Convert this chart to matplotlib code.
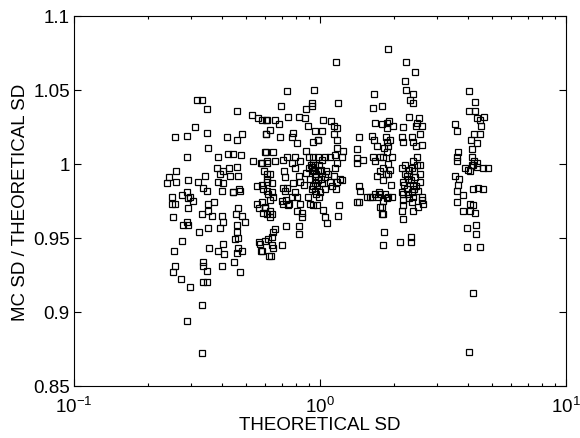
import matplotlib
matplotlib.use("Agg")
import matplotlib.pyplot as plt
import numpy as np

# ratio of Monte Carlo SD to theoretical SD
# band around 0.24 - 0.62
sd_a = [0.316, 0.331, 0.347, 0.460, 0.529, 0.559, 0.603, 0.310, 0.257, 0.288,
        0.347, 0.419, 0.460, 0.482, 0.603, 0.351, 0.288, 0.385, 0.423, 0.443,
        0.478, 0.534, 0.575, 0.609, 0.603, 0.381, 0.403, 0.427, 0.460, 0.260,
        0.244, 0.260, 0.239, 0.291, 0.319, 0.341, 0.392, 0.431, 0.464, 0.334,
        0.347, 0.385, 0.403, 0.443, 0.468, 0.555, 0.609, 0.609, 0.587, 0.250,
        0.275, 0.296, 0.291, 0.306, 0.250, 0.257, 0.288, 0.351, 0.370, 0.291,
        0.331, 0.351, 0.364, 0.253, 0.288, 0.277, 0.291, 0.400, 0.403, 0.392,
        0.322, 0.351, 0.464, 0.455, 0.482, 0.496, 0.460, 0.460, 0.451, 0.464,
        0.555, 0.565, 0.598, 0.400, 0.443, 0.473, 0.275, 0.255, 0.354, 0.385,
        0.403, 0.407, 0.464, 0.482, 0.460, 0.565, 0.575, 0.615, 0.620, 0.257,
        0.253, 0.334, 0.334, 0.347, 0.400, 0.447, 0.473, 0.272, 0.296, 0.334,
        0.347, 0.331, 0.288, 0.331]
ratio_a = [1.043, 1.043, 1.037, 1.036, 1.033, 1.031, 1.030, 1.025, 1.018, 1.019,
           1.021, 1.018, 1.016, 1.020, 1.020, 1.011, 1.005, 1.005, 1.007, 1.007,
           1.006, 1.002, 1.001, 1.002, 1.008, 0.997, 0.995, 0.997, 0.998, 0.995,
           0.991, 0.988, 0.987, 0.989, 0.988, 0.992, 0.993, 0.992, 0.992, 0.984,
           0.982, 0.988, 0.987, 0.981, 0.983, 0.985, 0.993, 0.988, 0.983, 0.978,
           0.979, 0.978, 0.977, 0.975, 0.973, 0.973, 0.981, 0.973, 0.974, 0.970,
           0.966, 0.968, 0.965, 0.964, 0.961, 0.959, 0.959, 0.965, 0.961, 0.957,
           0.954, 0.957, 0.970, 0.966, 0.965, 0.961, 0.959, 0.954, 0.949, 0.950,
           0.973, 0.970, 0.970, 0.982, 0.981, 0.982, 0.948, 0.941, 0.943, 0.941,
           0.946, 0.939, 0.943, 0.941, 0.940, 0.947, 0.941, 0.949, 0.938, 0.931,
           0.927, 0.934, 0.931, 0.928, 0.931, 0.934, 0.927, 0.922, 0.917, 0.920,
           0.920, 0.905, 0.894, 0.872]

# band around 0.57 - 1.9
sd_b = [1.889, 1.161, 0.734, 0.946, 1.185, 1.658, 0.694, 0.877, 0.928, 0.928,
        1.641, 1.787, 0.741, 0.818, 0.869, 0.581, 0.609, 0.656, 0.680, 1.033,
        1.110, 1.138, 1.172, 0.894, 1.674, 1.787, 1.872, 0.603, 0.626, 0.687,
        0.777, 0.766, 0.807, 0.954, 1.019, 0.981, 1.138, 1.172, 1.442, 1.626,
        1.658, 1.854, 0.937, 0.981, 0.877, 1.172, 1.240, 1.413, 1.706, 1.820,
        1.872, 0.598, 0.644, 0.581, 0.609, 0.656, 0.707, 0.734, 0.791, 0.766,
        0.829, 0.902, 0.937, 0.937, 0.954, 0.981, 1.019, 1.047, 1.099, 1.151,
        1.172, 1.228, 1.413, 1.413, 1.496, 1.641, 1.674, 1.754, 0.592, 0.626,
        0.609, 0.638, 0.581, 0.714, 0.721, 0.734, 0.707, 0.777, 0.829, 0.818,
        0.791, 0.902, 0.937, 0.910, 0.954, 0.981, 0.937, 1.019, 0.954, 1.000,
        1.047, 1.099, 1.047, 1.078, 1.151, 1.138, 1.205, 1.172, 1.228, 1.161,
        1.455, 1.442, 1.553, 1.674, 1.738, 1.706, 1.754, 1.889, 0.615, 0.644,
        0.609, 0.638, 0.626, 0.581, 0.598, 0.587, 0.626, 0.638, 0.626, 0.609,
        0.721, 0.727, 0.700, 0.770, 0.748, 0.707, 0.741, 0.807, 0.807, 0.845,
        0.845, 0.894, 0.910, 0.937, 0.972, 0.829, 1.033, 1.047, 1.065, 1.194,
        1.185, 1.442, 1.413, 1.596, 1.626, 1.722, 1.754, 1.803, 1.872, 1.889,
        0.727, 0.818, 0.818, 0.656, 0.644, 0.638, 0.598, 0.570, 0.638, 0.644,
        0.700, 0.581, 0.632, 1.820, 1.803]
ratio_b = [1.078, 1.069, 1.049, 1.050, 1.041, 1.047, 1.039, 1.037, 1.041, 1.039,
           1.038, 1.039, 1.032, 1.032, 1.031, 1.030, 1.030, 1.030, 1.027, 1.030,
           1.029, 1.026, 1.024, 1.026, 1.028, 1.027, 1.028, 1.020, 1.023, 1.018,
           1.021, 1.018, 1.014, 1.022, 1.022, 1.016, 1.020, 1.016, 1.018, 1.019,
           1.016, 1.018, 1.015, 1.016, 1.009, 1.011, 1.009, 1.010, 1.012, 1.011,
           1.015, 1.008, 1.008, 1.001, 1.001, 1.002, 1.003, 1.005, 1.005, 1.001,
           1.002, 1.005, 1.005, 1.001, 0.999, 1.005, 1.003, 1.005, 1.005, 1.006,
           1.001, 1.005, 1.004, 1.001, 1.003, 1.005, 1.002, 1.005, 0.995, 0.993,
           0.990, 0.987, 0.986, 0.995, 0.991, 0.984, 0.984, 0.987, 0.988, 0.992,
           0.981, 0.997, 0.995, 0.990, 0.992, 0.989, 0.985, 0.987, 0.982, 0.981,
           0.983, 0.988, 0.991, 0.993, 0.997, 0.992, 0.990, 0.988, 0.989, 0.983,
           0.982, 0.985, 0.978, 0.980, 0.981, 0.992, 0.995, 0.993, 0.980, 0.978,
           0.982, 0.981, 0.976, 0.974, 0.971, 0.967, 0.968, 0.966, 0.964, 0.966,
           0.982, 0.976, 0.975, 0.978, 0.973, 0.973, 0.972, 0.978, 0.968, 0.967,
           0.964, 0.978, 0.973, 0.972, 0.972, 0.973, 0.969, 0.964, 0.960, 0.972,
           0.965, 0.974, 0.974, 0.978, 0.978, 0.978, 0.971, 0.966, 0.977, 0.978,
           0.958, 0.958, 0.953, 0.956, 0.954, 0.951, 0.948, 0.946, 0.945, 0.943,
           0.945, 0.941, 0.938, 0.954, 0.945]

# crowded spots near x = 1 where the squares overlap
sd_b2 = [0.925, 0.945, 0.960, 0.985, 0.995, 0.950, 0.975, 1.010, 0.930, 0.965,
         0.990, 1.005, 0.880, 0.915, 1.060, 1.120, 0.860, 0.790]
ratio_b2 = [0.998, 0.996, 0.993, 0.995, 0.999, 0.987, 0.986, 0.990, 0.983, 0.980,
            0.978, 0.996, 0.994, 0.999, 0.995, 0.985, 0.986, 0.997]

# band around 1.8 - 2.6
sd_c = [2.237, 2.432, 2.216, 2.237, 2.387, 2.387, 2.321, 2.300, 2.525, 2.478,
        2.597, 2.455, 1.907, 1.980, 1.872, 2.175, 2.549, 2.365, 2.155, 2.175,
        2.387, 2.455, 2.597, 1.926, 1.889, 1.872, 2.478, 2.387, 2.216, 2.155,
        2.216, 2.365, 2.478, 2.549, 2.549, 2.432, 2.278, 2.175, 2.549, 2.387,
        2.258, 2.175, 2.365, 2.502, 2.597, 2.387, 1.803, 1.889, 1.926, 1.803,
        1.803, 1.962, 1.754, 1.837, 1.962, 1.803, 1.787, 1.787, 2.155, 2.175,
        2.175, 2.155, 2.365, 2.387, 2.502, 2.597, 2.621, 2.278, 2.175, 2.115,
        2.343, 2.343, 2.300, 2.420, 2.250, 2.340, 2.460, 2.200, 2.310, 2.400,
        1.850, 1.940]
ratio_c = [1.069, 1.062, 1.056, 1.050, 1.047, 1.041, 1.043, 1.032, 1.031, 1.028,
           1.026, 1.026, 1.029, 1.026, 1.024, 1.025, 1.020, 1.018, 1.018, 1.015,
           1.015, 1.012, 1.013, 1.016, 1.012, 1.008, 1.005, 1.002, 0.999, 0.997,
           0.993, 0.997, 0.999, 0.999, 0.993, 0.991, 0.990, 0.988, 0.988, 0.986,
           0.983, 0.980, 0.981, 0.982, 0.978, 0.978, 1.005, 1.000, 0.996, 0.997,
           0.989, 1.005, 0.980, 0.980, 0.978, 0.975, 0.971, 0.966, 0.981, 0.976,
           0.972, 0.968, 0.974, 0.968, 0.971, 0.976, 0.973, 0.980, 0.963, 0.947,
           0.951, 0.947, 0.996, 0.995, 0.992, 0.989, 0.985, 0.986, 0.977, 0.983,
           0.993, 0.986]

# band around 3.5 - 4.8
sd_d = [4.033, 4.264, 4.033, 4.264, 4.345, 4.468, 4.640, 4.510, 3.536, 3.602,
        4.225, 4.468, 4.108, 4.345, 4.147, 4.147, 4.225, 4.345, 4.147, 3.636,
        3.602, 3.602, 3.536, 3.670, 3.636, 3.883, 3.996, 4.186, 4.345, 4.071,
        4.597, 4.820, 3.602, 3.811, 4.186, 4.386, 4.597, 3.602, 3.811, 4.071,
        4.186, 4.071, 4.264, 3.959, 4.304, 4.304, 3.959, 4.468, 4.186, 4.033]
ratio_d = [1.049, 1.042, 1.036, 1.036, 1.031, 1.030, 1.032, 1.026, 1.027, 1.022,
           1.020, 1.020, 1.016, 1.014, 1.010, 1.005, 1.002, 1.001, 0.999, 1.008,
           1.005, 1.002, 0.992, 0.990, 0.986, 0.997, 0.996, 0.999, 0.998, 0.995,
           0.997, 0.997, 0.982, 0.979, 0.983, 0.984, 0.983, 0.974, 0.968, 0.973,
           0.972, 0.968, 0.967, 0.957, 0.959, 0.953, 0.944, 0.944, 0.913, 0.873]

y_ticks = [0.85, 0.9, 0.95, 1.0, 1.05, 1.1]
y_tick_labels = ['0.85', '0.9', '0.95', '1', '1.05', '1.1']

plt.rcParams['font.family'] = ['Liberation Sans', 'DejaVu Sans']
plt.rcParams['mathtext.fontset'] = 'custom'
plt.rcParams['mathtext.rm'] = 'Liberation Sans'

fig = plt.figure(figsize=(5.8, 4.39), dpi=100)
ax = fig.add_axes([0.1276, 0.1185, 0.8483, 0.8428])

x_all = np.concatenate([sd_a, sd_b, sd_b2, sd_c, sd_d])
y_all = np.concatenate([ratio_a, ratio_b, ratio_b2, ratio_c, ratio_d])
ax.plot(x_all, y_all, linestyle='none', marker='s', markersize=4.2,
        markerfacecolor='none', markeredgecolor='black', markeredgewidth=0.9)

ax.set_xscale('log')
ax.set_xlim(0.1, 10)
ax.set_ylim(0.85, 1.1)
ax.set_yticks(y_ticks)
ax.set_yticklabels(y_tick_labels)

ax.tick_params(which='both', direction='in', top=True, right=True,
               labelsize=13.5, width=0.8)
ax.tick_params(which='major', length=5)
ax.tick_params(which='minor', length=2.5)
ax.tick_params(axis='y', pad=3)
ax.tick_params(axis='x', pad=7)
for s in ax.spines.values():
    s.set_linewidth(0.8)

ax.set_xlabel('THEORETICAL SD', fontsize=13.5, labelpad=0)
ax.set_ylabel('MC SD / THEORETICAL SD', fontsize=13.5, labelpad=3)

fig.savefig('out.png', dpi=100)
